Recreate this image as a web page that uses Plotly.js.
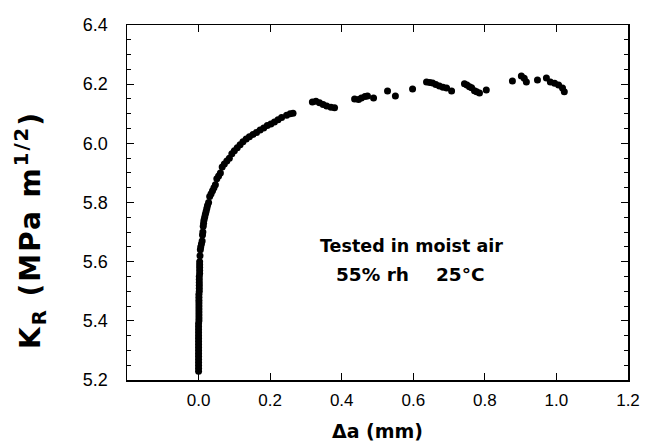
<!DOCTYPE html>
<html>
<head>
<meta charset="utf-8">
<script src="https://cdn.plot.ly/plotly-3.0.1.min.js"></script>
<style>
html,body{margin:0;padding:0;background:#fff;}
g.annotation[data-index="3"] text{letter-spacing:2px;}
</style>
</head>
<body>
<div id="chart" style="width:659px;height:445px;"></div>
<script>
// Crack extension (mm)
const deltaA = [
  0.000,0.000,0.000,0.000,0.000,0.000,0.000,0.000,0.000,0.000,0.000,0.000,0.000,0.000,0.000,0.000,0.000,
  0.001,0.001,0.001,0.001,0.001,0.001,0.001,0.001,0.001,0.001,
  0.002,0.002,0.002,0.002,0.002,0.002,
  0.003,0.003,0.003,0.003,
  0.003,0.004,0.005,0.006,0.008,0.010,0.011,0.012,0.013,0.014,0.015,0.017,0.019,0.021,0.023,0.025,
  0.028,0.031,0.035,0.039,0.043,0.047,0.051,0.056,0.061,0.066,0.072,0.079,0.086,0.093,0.100,0.108,
  0.116,0.124,0.133,0.142,0.152,0.162,0.172,0.182,0.192,0.202,0.212,0.222,0.232,0.246,0.256,0.264,
  0.318,0.328,0.338,0.348,0.358,0.370,0.380,
  0.436,0.447,0.455,0.465,0.472,0.489,0.528,0.550,0.598,
  0.637,0.646,0.654,0.663,0.673,0.683,0.693,0.707,
  0.743,0.750,0.757,0.763,0.771,0.777,0.785,0.804,
  0.877,0.902,0.910,0.916,0.947,0.972,0.983,0.995,1.006,1.017,1.022
];
// Resistance-curve toughness K_R (MPa m^1/2)
const kR = [
  5.23,5.24,5.25,5.26,5.27,5.28,5.29,5.30,5.31,5.32,5.33,5.34,5.35,5.36,5.37,5.38,5.39,
  5.40,5.41,5.42,5.43,5.44,5.45,5.46,5.47,5.48,5.49,
  5.50,5.51,5.52,5.53,5.54,5.55,
  5.56,5.57,5.58,5.59,
  5.60,5.62,5.64,5.65,5.66,5.67,5.69,5.70,5.72,5.73,5.74,5.75,5.76,5.77,5.78,5.79,
  5.80,5.82,5.83,5.84,5.85,5.86,5.88,5.89,5.90,5.92,5.93,5.94,5.95,5.965,5.975,5.985,
  5.995,6.005,6.015,6.022,6.030,6.037,6.045,6.052,6.060,6.065,6.072,6.080,6.087,6.095,6.100,6.102,
  6.140,6.142,6.137,6.131,6.126,6.122,6.120,
  6.150,6.148,6.153,6.158,6.160,6.153,6.177,6.160,6.184,
  6.207,6.206,6.204,6.199,6.194,6.190,6.187,6.177,
  6.201,6.197,6.191,6.188,6.178,6.174,6.170,6.180,
  6.211,6.228,6.220,6.207,6.214,6.221,6.207,6.203,6.197,6.187,6.174
];
const xTickVals = [0.0,0.2,0.4,0.6,0.8,1.0,1.2];
const yTickVals = [5.2,5.4,5.6,5.8,6.0,6.2,6.4];
const xTitle = "Δa (mm)";
const yTitle = "K<sub>R</sub> (MPa m<sup>1/2</sup>)";
const noteLine1 = "Tested in moist air";
const noteRH = "55% rh";
const noteTemp = "25°C";

const trace = {
  x: deltaA, y: kR, type: 'scatter', mode: 'markers',
  marker: {color: '#000', size: 7, line: {width: 0}},
  hoverinfo: 'skip', showlegend: false
};

const boldFont = 'DejaVu Sans, sans-serif';

const layout = {
  width: 659, height: 445,
  margin: {l: 127, r: 31, t: 25, b: 65},
  paper_bgcolor: '#fff', plot_bgcolor: '#fff',
  showlegend: false,
  xaxis: {
    range: [-0.2, 1.2], tickvals: xTickVals, tickformat: '.1f',
    ticks: 'inside', ticklen: 7, tickwidth: 1.2, tickcolor: '#000',
    showline: true, linecolor: '#000', linewidth: 1.5, mirror: 'ticks',
    showgrid: false, zeroline: false,
    tickfont: {family: 'Liberation Sans, Arial, sans-serif', size: 17, color: '#000'},
    ticklabelstandoff: 4,
    title: {text: '<b>' + xTitle + '</b>', font: {family: boldFont, size: 19, color: '#000'}, standoff: 16}
  },
  yaxis: {
    range: [5.2, 6.4], tickvals: yTickVals, tickformat: '.1f',
    ticks: 'inside', ticklen: 7, tickwidth: 1.2, tickcolor: '#000',
    minor: {dtick: 0.05, ticks: 'inside', ticklen: 4, tickwidth: 1, tickcolor: '#000', showgrid: false},
    showline: true, linecolor: '#000', linewidth: 1.5, mirror: 'ticks',
    showgrid: false, zeroline: false,
    tickfont: {family: 'Liberation Sans, Arial, sans-serif', size: 18, color: '#000'},
    ticklabelstandoff: 14
  },
  annotations: [
    {x: 0.595, y: 5.652, xref: 'x', yref: 'y', text: '<b>' + noteLine1 + '</b>', showarrow: false,
     font: {family: boldFont, size: 17.5, color: '#000'}},
    {x: 0.487, y: 5.556, xref: 'x', yref: 'y', text: '<b>' + noteRH + '</b>', showarrow: false,
     font: {family: boldFont, size: 18.5, color: '#000'}},
    {x: 0.733, y: 5.556, xref: 'x', yref: 'y', text: '<b>' + noteTemp + '</b>', showarrow: false,
     font: {family: boldFont, size: 18.5, color: '#000'}},
    {x: -0.1936, y: 0.4225, xref: 'paper', yref: 'paper', text: '<b>' + yTitle + '</b>', showarrow: false,
     textangle: -90, xanchor: 'center', yanchor: 'middle',
     font: {family: boldFont, size: 28, color: '#000'}}
  ]
};

Plotly.newPlot('chart', [trace], layout, {displayModeBar: false, staticPlot: true});
</script>
</body>
</html>
